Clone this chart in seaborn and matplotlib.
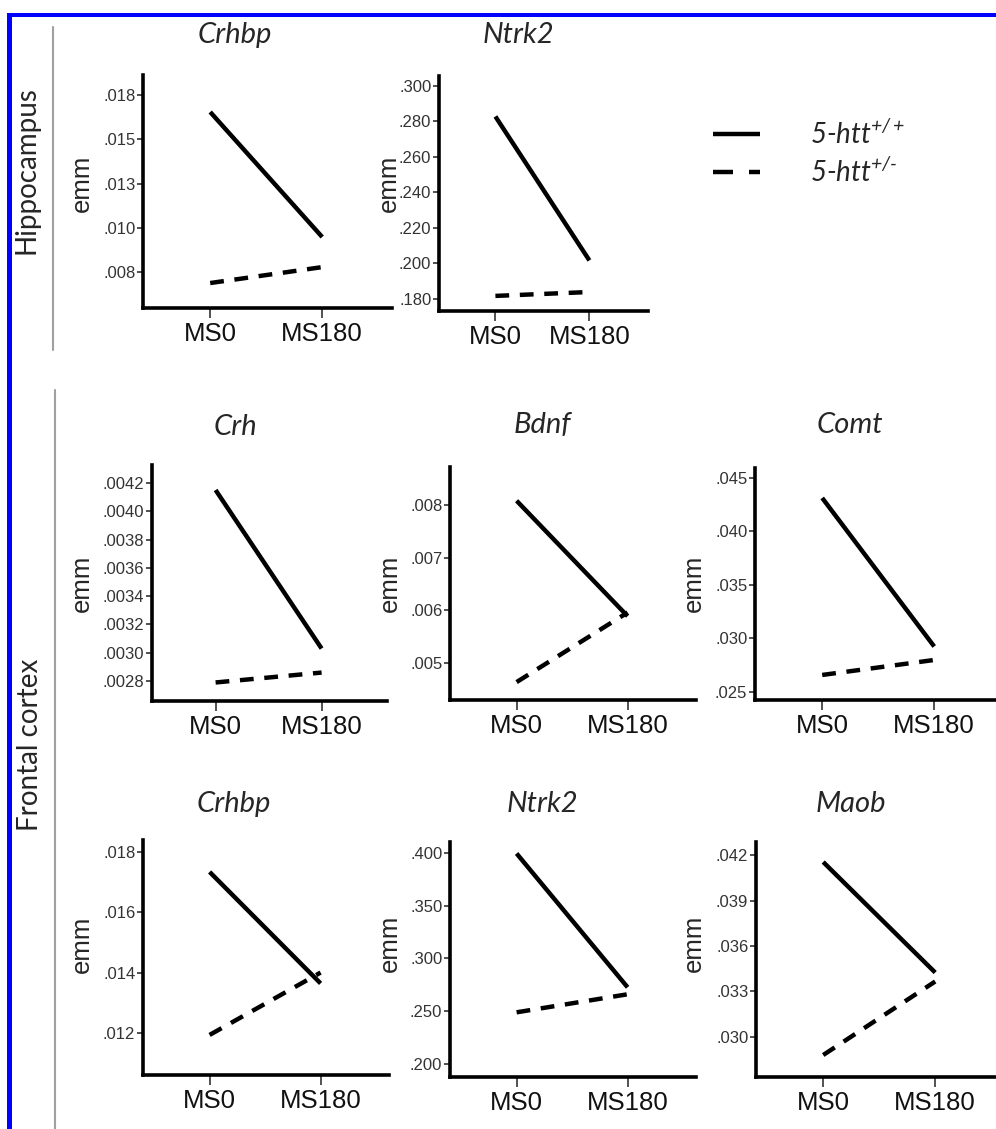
import pandas as pd
import matplotlib
matplotlib.use("Agg")
import matplotlib.pyplot as plt
from matplotlib.lines import Line2D
from matplotlib.patches import Rectangle
import seaborn as sns

# Estimated marginal means (emm) per gene, MS0 vs MS180, two genotypes
conditions = ["MS0", "MS180"]
genotypes = ["5-htt+/+", "5-htt+/-"]
regions = ["Hippocampus", "Hippocampus",
           "Frontal cortex", "Frontal cortex", "Frontal cortex",
           "Frontal cortex", "Frontal cortex", "Frontal cortex"]
genes = ["Crhbp", "Ntrk2", "Crh", "Bdnf", "Comt", "Crhbp", "Ntrk2", "Maob"]

emm_wt = [
    [0.01654, 0.00948],
    [0.2828, 0.2017],
    [0.00415, 0.00303],
    [0.00808, 0.00589],
    [0.04313, 0.02925],
    [0.01734, 0.01364],
    [0.3995, 0.2727],
    [0.04154, 0.03425],
]
emm_het = [
    [0.00688, 0.00778],
    [0.1817, 0.1839],
    [0.00279, 0.00286],
    [0.00464, 0.00596],
    [0.02659, 0.02799],
    [0.01193, 0.01400],
    [0.2490, 0.2661],
    [0.02881, 0.03366],
]

yticks = [
    [0.0075, 0.0100, 0.0125, 0.0150, 0.0175],
    [0.18, 0.20, 0.22, 0.24, 0.26, 0.28, 0.30],
    [0.0028, 0.0030, 0.0032, 0.0034, 0.0036, 0.0038, 0.0040, 0.0042],
    [0.005, 0.006, 0.007, 0.008],
    [0.025, 0.030, 0.035, 0.040, 0.045],
    [0.012, 0.014, 0.016, 0.018],
    [0.20, 0.25, 0.30, 0.35, 0.40],
    [0.030, 0.033, 0.036, 0.039, 0.042],
]
ytick_labels = [
    [".008", ".010", ".013", ".015", ".018"],
    [".180", ".200", ".220", ".240", ".260", ".280", ".300"],
    [".0028", ".0030", ".0032", ".0034", ".0036", ".0038", ".0040", ".0042"],
    [".005", ".006", ".007", ".008"],
    [".025", ".030", ".035", ".040", ".045"],
    [".012", ".014", ".016", ".018"],
    [".200", ".250", ".300", ".350", ".400"],
    [".030", ".033", ".036", ".039", ".042"],
]
ylims = [
    (0.00547, 0.01863),
    (0.1732, 0.3056),
    (0.002659, 0.004327),
    (0.00430, 0.00872),
    (0.02425, 0.04593),
    (0.0106, 0.0184),
    (0.1877, 0.4104),
    (0.02736, 0.04286),
]

# layout (pixels): y-axis x, px per category step, top, bottom
W, H = 996, 1129
panel_px = [
    (143, 112, 75, 308),
    (439, 94, 76, 311),
    (152, 106, 465, 701),
    (450, 111, 467, 700),
    (755, 112, 468, 700),
    (143, 111, 840, 1075),
    (450, 111, 842, 1077),
    (756, 112, 842, 1077),
]
title_px = [(235, 43), (518, 43), (235, 435), (542, 433), (850, 433),
            (234, 812), (542, 812), (851, 812)]
ylabel_px = [(82, 183), (389, 183), (82, 583), (390, 583), (694, 583),
             (82, 944), (390, 943), (694, 943)]
XLIM = (-0.6, 1.62)

sns.set_theme(style="white")
plt.rcParams["font.family"] = ["Liberation Sans", "DejaVu Sans"]
plt.rcParams["mathtext.fontset"] = "custom"
plt.rcParams["mathtext.it"] = "Lato:italic"
plt.rcParams["mathtext.rm"] = "Lato:italic"

fig = plt.figure(figsize=(W / 100, H / 100), dpi=100)


def fx(x):
    return x / W


def fy(y):
    return 1 - y / H


dash_style = {"5-htt+/+": "", "5-htt+/-": (3.1, 2.4)}

for i, gene in enumerate(genes):
    left, unit, top, bottom = panel_px[i]
    ax = fig.add_axes([fx(left), fy(bottom), (XLIM[1] - XLIM[0]) * unit / W,
                       (bottom - top) / H])
    df = pd.DataFrame({
        "condition": conditions * 2,
        "genotype": [genotypes[0]] * 2 + [genotypes[1]] * 2,
        "emm": emm_wt[i] + emm_het[i],
    })
    sns.lineplot(data=df, x="condition", y="emm", style="genotype",
                 dashes=dash_style, color="black", lw=3.2, legend=False,
                 sort=False, ax=ax)
    for ln in ax.lines:
        ln.set_solid_capstyle("butt")
        ln.set_dash_capstyle("butt")
    ax.set_xlim(*XLIM)
    ax.set_ylim(*ylims[i])
    ax.set_yticks(yticks[i])
    ax.set_yticklabels(ytick_labels[i])
    ax.set_xlabel("")
    ax.set_ylabel("")
    sns.despine(ax=ax)
    for side in ["left", "bottom"]:
        ax.spines[side].set_linewidth(2.6)
        ax.spines[side].set_color("black")
    ax.tick_params(axis="y", length=4, width=1.2, pad=1.5, labelsize=12,
                   color="#333333", labelcolor="#333333", left=True)
    ax.tick_params(axis="x", length=7, width=1.2, pad=3, labelsize=18.5,
                   color="#333333", labelcolor="#111111", bottom=True)
    ax.set_facecolor("none")

    tx, ty = title_px[i]
    fig.text(fx(tx), fy(ty), gene, ha="center", va="baseline", fontsize=21,
             style="italic", family=["Lato", "DejaVu Sans"])
    lx, ly = ylabel_px[i]
    fig.text(fx(lx), fy(ly), "emm", ha="center", va="center", rotation=90,
             fontsize=18.5)

# region labels and separators
fig.text(fx(27), fy(170), regions[0], rotation=90, ha="center", va="center",
         fontsize=20, family=["Lato", "DejaVu Sans"])
fig.text(fx(30), fy(745), regions[2], rotation=90, ha="center", va="center",
         fontsize=20, family=["Lato", "DejaVu Sans"])
fig.add_artist(Line2D([fx(53), fx(53)], [fy(27), fy(350)], color="#a0a0a0", lw=1.5))
fig.add_artist(Line2D([fx(55), fx(55)], [fy(390), fy(1129)], color="#a0a0a0", lw=1.5))

# legend
handles = [
    Line2D([], [], color="black", lw=3.2, solid_capstyle="butt"),
    Line2D([], [], color="black", lw=3.2, dashes=(4.5, 3.6), dash_capstyle="butt"),
]
fig.legend(handles, ["5-htt$^{+/+}$", r"5-htt$^{+/\text{-}}$"], loc="upper left",
           bbox_to_anchor=(fx(699), fy(106)), frameon=False, borderpad=0,
           handlelength=1.7, handletextpad=1.8, labelspacing=0.3,
           prop={"family": "Lato", "style": "italic", "size": 20})

# blue frame (top and left)
fig.add_artist(Rectangle((fx(7), fy(17)), 1 - fx(7), 4 / H, color="#0000ff",
                         transform=fig.transFigure, lw=0))
fig.add_artist(Rectangle((fx(7), 0), 5 / W, fy(13), color="#0000ff",
                         transform=fig.transFigure, lw=0))

fig.savefig("out.png", dpi=100)
